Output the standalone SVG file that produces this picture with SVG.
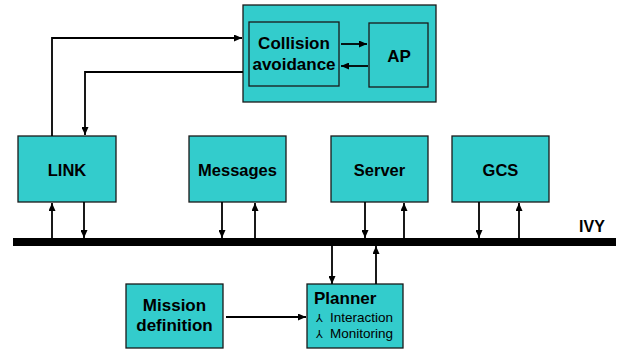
<svg xmlns="http://www.w3.org/2000/svg" width="621" height="354" viewBox="0 0 621 354">
<style>
.box{fill:#33CCCC;stroke:#1a1a1a;stroke-width:1.3}
.t{font-family:"Liberation Sans",Arial,sans-serif;font-weight:bold;font-size:16.5px;fill:#000;text-anchor:middle}
.s{font-family:"Liberation Sans",Arial,sans-serif;font-size:13.5px;fill:#000}
.b{font-family:"DejaVu Sans",sans-serif;font-size:11px;fill:#000}
.c{fill:none;stroke:#000;stroke-width:1.8}
</style>
<defs>
<marker id="ah" markerUnits="userSpaceOnUse" markerWidth="8" markerHeight="7" refX="8" refY="3.5" orient="auto">
<path d="M0,0 L8,3.5 L0,7 z" fill="#000"/>
</marker>
</defs>
<g id="ca-group">
<rect class="box" x="243" y="5" width="193" height="97"/>
</g>
<g id="collision">
<rect class="box" x="249" y="22" width="90" height="64"/>
<text class="t" x="294" y="49" style="font-size:17px">Collision</text>
<text class="t" x="294" y="70" style="font-size:17px">avoidance</text>
</g>
<g id="ap">
<rect class="box" x="369" y="23" width="59" height="64"/>
<text class="t" x="399" y="62" style="font-size:17px">AP</text>
</g>
<g id="link">
<rect class="box" x="18" y="136" width="98" height="66"/>
<text class="t" x="67" y="176">LINK</text>
</g>
<g id="messages">
<rect class="box" x="189" y="136" width="97" height="66"/>
<text class="t" x="237.5" y="176">Messages</text>
</g>
<g id="server">
<rect class="box" x="331" y="136" width="97" height="66"/>
<text class="t" x="379.5" y="176">Server</text>
</g>
<g id="gcs">
<rect class="box" x="452" y="136" width="97" height="66"/>
<text class="t" x="500.5" y="176">GCS</text>
</g>
<g id="ivy">
<rect x="13" y="238" width="603" height="8" fill="#000"/>
<text class="t" x="592" y="232" style="font-size:16px">IVY</text>
</g>
<g id="mission">
<rect class="box" x="126" y="284" width="97" height="64"/>
<text class="t" x="174.5" y="311" style="font-size:17px">Mission</text>
<text class="t" x="174.5" y="331" style="font-size:17px">definition</text>
</g>
<g id="planner">
<rect class="box" x="307" y="284" width="96" height="64"/>
<text class="t" x="314" y="304" style="text-anchor:start;font-size:17px">Planner</text>
<text class="b" x="316" y="322">⅄</text>
<text class="s" x="330" y="322">Interaction</text>
<text class="b" x="316" y="338">⅄</text>
<text class="s" x="330" y="338">Monitoring</text>
</g>
<g id="connectors">
<path class="c" d="M52,136 V38 H242" marker-end="url(#ah)"/>
<path class="c" d="M243,72 H85 V135" marker-end="url(#ah)"/>
<path class="c" d="M341,44 H367" marker-end="url(#ah)"/>
<path class="c" d="M368,66 H341" marker-end="url(#ah)"/>
<path class="c" d="M52,238 V203" marker-end="url(#ah)"/>
<path class="c" d="M84,202 V238" marker-end="url(#ah)"/>
<path class="c" d="M222,202 V238" marker-end="url(#ah)"/>
<path class="c" d="M255,238 V203" marker-end="url(#ah)"/>
<path class="c" d="M365,202 V238" marker-end="url(#ah)"/>
<path class="c" d="M404,238 V203" marker-end="url(#ah)"/>
<path class="c" d="M479,202 V238" marker-end="url(#ah)"/>
<path class="c" d="M519,238 V203" marker-end="url(#ah)"/>
<path class="c" d="M332,246 V284" marker-end="url(#ah)"/>
<path class="c" d="M376,284 V246" marker-end="url(#ah)"/>
<path class="c" d="M226,317 H306" marker-end="url(#ah)"/>
</g>
</svg>
